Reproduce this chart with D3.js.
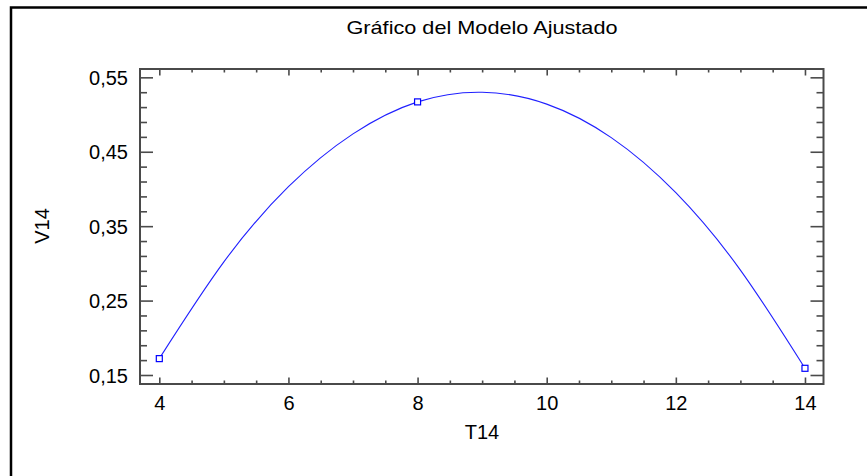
<!DOCTYPE html>
<html>
<head>
<meta charset="utf-8">
<script src="https://cdn.jsdelivr.net/npm/d3@7/dist/d3.min.js"></script>
<style>
  html, body { margin: 0; padding: 0; background: #fff; }
  svg { display: block; }
  text { font-family: "Liberation Sans", Arial, sans-serif; fill: #000; }
</style>
</head>
<body>
<svg id="chart" width="867" height="476"></svg>
<script>
// ---- data ----
const title = "Gráfico del Modelo Ajustado";
const xLabel = "T14";
const yLabel = "V14";
// observed points
const obsT = [4, 8, 14];
const obsV = [0.172, 0.517, 0.159];
// fitted model curve, read at each integer T
const fitT = [4, 5, 6, 7, 8, 9, 10, 11, 12, 13, 14];
const fitV = [0.172, 0.302, 0.403, 0.474, 0.517, 0.530, 0.514, 0.469, 0.395, 0.291, 0.159];
// axis ticks
const xMajorTicks = [4, 6, 8, 10, 12, 14];
const xMinorTicks = [4.5, 5, 5.5, 6.5, 7, 7.5, 8.5, 9, 9.5, 10.5, 11, 11.5, 12.5, 13, 13.5];
const yMajorTicks = [0.15, 0.25, 0.35, 0.45, 0.55];
const yMinorTicks = [0.17, 0.19, 0.21, 0.23, 0.27, 0.29, 0.31, 0.33, 0.37, 0.39, 0.41, 0.43, 0.47, 0.49, 0.51, 0.53];
const yTickLabels = ["0,15", "0,25", "0,35", "0,45", "0,55"];

// ---- layout ----
const svg = d3.select("#chart");
const L = 140, R = 823.5, T = 69, B = 384;
const x = d3.scaleLinear().domain([3.701, 14.287]).range([L, R]);
const y = d3.scaleLinear().domain([0.1379, 0.5612]).range([B, T]);
const axisColor = "#4a4a4a";

// outer frame (left and top edges)
svg.append("path")
  .attr("d", `M11,476 L11,7.5 L867,7.5`)
  .attr("fill", "none").attr("stroke", "#000").attr("stroke-width", 2.5);

// title
svg.append("text").attr("x", 482).attr("y", 34)
  .attr("text-anchor", "middle").style("font-size", "19px")
  .attr("textLength", 271).attr("lengthAdjust", "spacingAndGlyphs")
  .text(title);

// axes with inward ticks
function drawAxis(axisGen, tx, ty, vals, size) {
  const g = svg.append("g").attr("transform", `translate(${tx},${ty})`)
    .call(axisGen.tickValues(vals).tickSize(size).tickFormat(""));
  g.select(".domain").remove();
  g.selectAll("line").attr("stroke", axisColor).attr("stroke-width", 1.6);
  g.selectAll("text").remove();
  return g;
}
// bottom: inward = upward
drawAxis(d3.axisTop(x), 0, B, xMajorTicks, 6.5);
drawAxis(d3.axisTop(x), 0, B, xMinorTicks, 3.5);
// top: inward = downward
drawAxis(d3.axisBottom(x), 0, T, xMajorTicks, 6.5);
drawAxis(d3.axisBottom(x), 0, T, xMinorTicks, 3.5);
// left: inward = rightward
drawAxis(d3.axisRight(y), L, 0, yMajorTicks, 13);
drawAxis(d3.axisRight(y), L, 0, yMinorTicks, 7);
// right: inward = leftward
drawAxis(d3.axisLeft(y), R, 0, yMajorTicks, 13);
drawAxis(d3.axisLeft(y), R, 0, yMinorTicks, 7);

// plot frame
svg.append("rect").attr("x", L).attr("y", T).attr("width", R - L).attr("height", B - T)
  .attr("fill", "none").attr("stroke", axisColor).attr("stroke-width", 2);

// tick labels
const xl = d3.axisBottom(x).tickValues(xMajorTicks).tickSize(0).tickPadding(0).tickFormat(d3.format("d"));
const gx = svg.append("g").attr("transform", `translate(0,${B})`).call(xl);
gx.select(".domain").remove();
gx.selectAll("text").attr("y", 26).attr("dy", 0).style("font-size", "20px")
  .style("font-family", "'Liberation Sans', Arial, sans-serif").attr("fill", "#000");

const yl = d3.axisLeft(y).tickValues(yMajorTicks).tickSize(0).tickPadding(12)
  .tickFormat((d, i) => yTickLabels[i]);
const gy = svg.append("g").attr("transform", `translate(${L},0)`).call(yl);
gy.select(".domain").remove();
gy.selectAll("text").attr("dy", "0.36em").style("font-size", "20px")
  .style("font-family", "'Liberation Sans', Arial, sans-serif").attr("fill", "#000");

// axis titles
svg.append("text").attr("x", 482).attr("y", 439).attr("text-anchor", "middle")
  .style("font-size", "20px").text(xLabel);
svg.append("text").attr("transform", "translate(49,226) rotate(-90)")
  .attr("text-anchor", "middle").style("font-size", "20px").text(yLabel);

// fitted curve
const fit = fitT.map((t, i) => [t, fitV[i]]);
svg.append("path").datum(fit)
  .attr("d", d3.line().x(d => x(d[0])).y(d => y(d[1])).curve(d3.curveNatural))
  .attr("fill", "none").attr("stroke", "#2020ff").attr("stroke-width", 1.1);

// observed points
svg.selectAll(".pt").data(obsT.map((t, i) => [t, obsV[i]])).enter()
  .append("rect").attr("class", "pt")
  .attr("x", d => x(d[0]) - 3).attr("y", d => y(d[1]) - 3)
  .attr("width", 6).attr("height", 6)
  .attr("fill", "#fff").attr("stroke", "#0000ff").attr("stroke-width", 1.2);
</script>
</body>
</html>
